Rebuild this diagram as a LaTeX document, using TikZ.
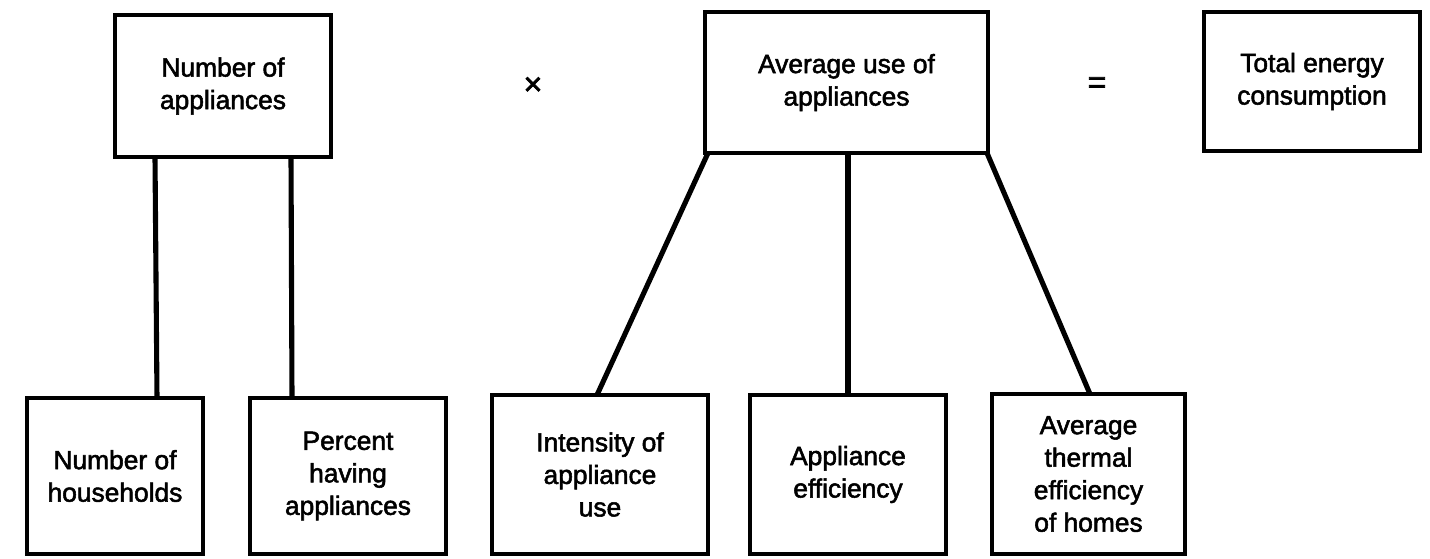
\documentclass[tikz,border=0pt]{standalone}
\usepackage{fontspec}
\setmainfont[FakeBold=2.0]{Liberation Sans}
\newfontfamily\opfont[FakeBold=2.5]{Liberation Sans}
\begin{document}
\begin{tikzpicture}[x=0.02cm, y=-0.02cm,
  every node/.style={font=\fontsize{15pt}{18.5pt}\selectfont},
  factor/.style={draw=black, line width=2.7pt, align=center, inner sep=0pt, outer sep=0pt},
  link/.style={line width=2.9pt, line cap=butt},
  op/.style={font=\opfont\fontsize{18pt}{18pt}\selectfont}]
\useasboundingbox (0,0) rectangle (1430,558);

% top row
\node[factor, minimum width=4.32cm, minimum height=2.84cm] (A) at (223,86) {Number of\\appliances};
\node[factor, minimum width=5.66cm, minimum height=2.82cm] (B) at (846.5,82.5) {Average use of\\appliances};
\node[factor, minimum width=4.32cm, minimum height=2.78cm] (C) at (1312,81.5) {Total energy\\consumption};
\node[op] (times) at (533,86) {×};
\node[op] (eq) at (1097,85) {=};

% bottom row
\node[factor, minimum width=3.52cm, minimum height=3.12cm] (D) at (115,476) {Number of\\households};
\node[factor, minimum width=3.92cm, minimum height=3.12cm] (E) at (348,476) {Percent\\having\\appliances};
\node[factor, minimum width=4.32cm, minimum height=3.18cm] (F) at (600,474.5) {Intensity of\\appliance\\use};
\node[factor, minimum width=3.92cm, minimum height=3.18cm] (G) at (848,474.5) {Appliance\\efficiency};
\node[factor, minimum width=3.86cm, minimum height=3.20cm] (H) at (1088.5,474) {Average\\thermal\\efficiency\\of homes};

% connectors
\draw[link] (A.south -| 155,0) -- (D.north -| 157,0);
\draw[link] (A.south -| 291,0) -- (E.north -| 292,0);
\draw[link] (B.south -| 708,0) -- (F.north -| 597,0);
\draw[link] (B.south -| 848,0) -- (G.north -| 848,0);
\draw[link] (B.south -| 987,0) -- (H.north -| 1090,0);
\end{tikzpicture}
\end{document}
